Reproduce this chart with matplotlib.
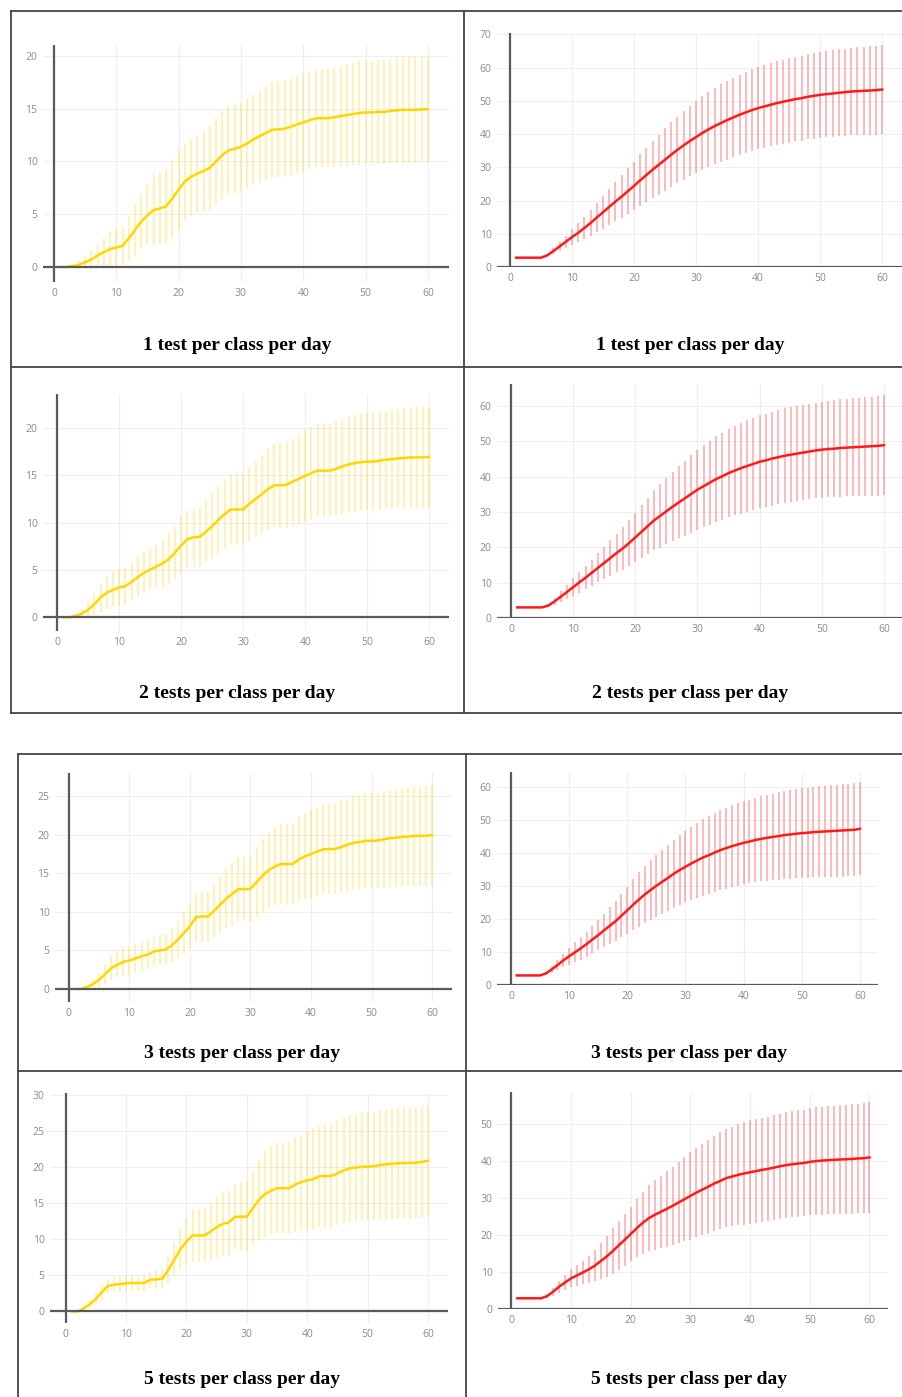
"""
Cumulative cases over 60 days for different testing frequencies
(yellow = one group, red = other group), mean line with error bars.
"""

import matplotlib.pyplot as plt
from matplotlib.lines import Line2D
import numpy as np

W, H = 902, 1397

days = list(range(1, 61))

titles = ['1 test per class per day', '2 tests per class per day',
          '3 tests per class per day', '5 tests per class per day']

# ---- yellow panels (left column) ----
y1_mean = [0, 0, 0.1, 0.2, 0.45, 0.7, 1.1, 1.4, 1.7, 1.85,
           2.0, 2.7, 3.5, 4.3, 4.9, 5.4, 5.55, 5.75, 6.5, 7.35,
           8.1, 8.55, 8.85, 9.1, 9.4, 10.0, 10.6, 11.05, 11.2, 11.4,
           11.7, 12.1, 12.4, 12.7, 13.0, 13.05, 13.1, 13.3, 13.5, 13.7,
           13.9, 14.1, 14.1, 14.1, 14.2, 14.3, 14.4, 14.5, 14.6, 14.65,
           14.65, 14.7, 14.7, 14.8, 14.85, 14.9, 14.9, 14.9, 14.95, 14.95]
y1_err = [0, 0, 0.1, 0.35, 0.6, 0.85, 1.1, 1.35, 1.6, 1.75,
          1.9, 2.1, 2.35, 2.6, 2.85, 3.3, 3.45, 3.55, 3.75, 3.8,
          3.6, 3.6, 3.7, 3.85, 4.0, 4.1, 4.2, 4.2, 4.2, 4.15,
          4.2, 4.3, 4.4, 4.5, 4.55, 4.55, 4.6, 4.6, 4.6, 4.65,
          4.65, 4.65, 4.65, 4.65, 4.7, 4.75, 4.8, 4.85, 4.9, 4.9,
          4.9, 4.9, 4.95, 4.95, 5.0, 5.0, 5.0, 5.0, 5.0, 5.0]

y2_mean = [0, 0, 0.15, 0.4, 0.8, 1.4, 2.1, 2.6, 2.9, 3.15,
           3.3, 3.75, 4.25, 4.7, 5.05, 5.35, 5.7, 6.15, 6.85, 7.6,
           8.25, 8.45, 8.5, 9.05, 9.65, 10.3, 10.9, 11.4, 11.4, 11.4,
           12.0, 12.5, 13.0, 13.55, 13.95, 13.95, 14.0, 14.35, 14.65, 14.95,
           15.25, 15.5, 15.5, 15.5, 15.7, 15.95, 16.15, 16.3, 16.4, 16.45,
           16.45, 16.55, 16.65, 16.7, 16.8, 16.85, 16.9, 16.9, 16.9, 16.95]
y2_err = [0, 0, 0.2, 0.5, 0.8, 1.2, 1.5, 1.7, 1.85, 1.95,
          2.0, 2.05, 2.1, 2.15, 2.2, 2.3, 2.45, 2.6, 2.8, 2.95,
          3.05, 3.1, 3.2, 3.35, 3.5, 3.6, 3.65, 3.7, 3.7, 3.75,
          3.9, 4.05, 4.2, 4.35, 4.45, 4.5, 4.55, 4.65, 4.75, 4.85,
          4.9, 4.95, 4.95, 4.95, 5.0, 5.05, 5.1, 5.1, 5.15, 5.15,
          5.15, 5.2, 5.2, 5.25, 5.25, 5.3, 5.3, 5.3, 5.3, 5.3]

y3_mean = [0, 0, 0.25, 0.65, 1.2, 1.95, 2.7, 3.15, 3.5, 3.7,
           3.95, 4.25, 4.45, 4.85, 5.0, 5.1, 5.65, 6.4, 7.25, 8.15,
           9.3, 9.4, 9.4, 10.15, 10.95, 11.7, 12.35, 12.95, 12.95, 12.95,
           13.85, 14.7, 15.4, 15.85, 16.2, 16.2, 16.2, 16.8, 17.2, 17.5,
           17.8, 18.1, 18.15, 18.15, 18.4, 18.7, 18.95, 19.05, 19.2, 19.2,
           19.25, 19.4, 19.55, 19.6, 19.7, 19.75, 19.85, 19.85, 19.85, 19.95]
y3_err = [0, 0, 0.3, 0.6, 0.9, 1.25, 1.55, 1.75, 1.85, 1.9,
          1.9, 1.9, 1.9, 1.9, 1.95, 2.0, 2.2, 2.45, 2.75, 3.0,
          3.2, 3.25, 3.3, 3.45, 3.65, 3.85, 4.0, 4.15, 4.2, 4.3,
          4.55, 4.75, 4.95, 5.1, 5.2, 5.25, 5.3, 5.45, 5.55, 5.65,
          5.75, 5.85, 5.85, 5.9, 5.95, 6.0, 6.05, 6.1, 6.15, 6.15,
          6.2, 6.25, 6.3, 6.35, 6.4, 6.45, 6.5, 6.5, 6.5, 6.55]

y5_mean = [0, 0, 0.45, 1.0, 1.75, 2.7, 3.55, 3.7, 3.8, 3.9,
           3.95, 3.95, 3.95, 4.4, 4.45, 4.55, 5.8, 7.2, 8.65, 9.7,
           10.55, 10.55, 10.55, 11.1, 11.7, 12.15, 12.35, 13.1, 13.15, 13.15,
           14.35, 15.5, 16.3, 16.75, 17.1, 17.1, 17.1, 17.6, 17.95, 18.2,
           18.35, 18.75, 18.8, 18.8, 19.15, 19.55, 19.85, 19.95, 20.05, 20.1,
           20.15, 20.3, 20.4, 20.5, 20.55, 20.6, 20.6, 20.65, 20.75, 20.9]
y5_err = [0, 0, 0.3, 0.55, 0.8, 0.95, 1.0, 1.05, 1.05, 1.05,
          1.05, 1.05, 1.1, 1.2, 1.3, 1.4, 1.8, 2.3, 2.8, 3.3,
          3.65, 3.7, 3.75, 3.95, 4.2, 4.35, 4.45, 4.6, 4.65, 4.75,
          5.2, 5.6, 5.95, 6.15, 6.3, 6.35, 6.4, 6.55, 6.7, 6.85,
          6.9, 7.0, 7.05, 7.1, 7.2, 7.3, 7.4, 7.45, 7.5, 7.55,
          7.55, 7.6, 7.65, 7.65, 7.7, 7.7, 7.75, 7.75, 7.8, 7.8]

# ---- red panels (right column) ----
r1_mean = [2.8, 2.8, 2.8, 2.8, 2.8, 3.5, 4.8, 6.2, 7.6, 9.0,
           10.3, 11.75, 13.25, 14.9, 16.5, 18.1, 19.7, 21.2, 22.8, 24.4,
           26.1, 27.7, 29.3, 30.8, 32.3, 33.8, 35.25, 36.6, 37.9, 39.1,
           40.3, 41.4, 42.4, 43.3, 44.2, 45.0, 45.8, 46.5, 47.2, 47.8,
           48.3, 48.8, 49.3, 49.7, 50.1, 50.5, 50.8, 51.2, 51.5, 51.8,
           52.0, 52.2, 52.4, 52.6, 52.8, 52.9, 53.0, 53.1, 53.2, 53.4]
r1_err = [0, 0, 0, 0, 0, 0.3, 0.8, 1.3, 1.8, 2.3,
          2.9, 3.4, 3.9, 4.5, 5.0, 5.5, 6.0, 6.5, 6.9, 7.3,
          7.8, 8.2, 8.6, 9.0, 9.4, 9.7, 10.0, 10.3, 10.6, 10.9,
          11.1, 11.3, 11.5, 11.7, 11.9, 12.0, 12.1, 12.2, 12.3, 12.4,
          12.45, 12.5, 12.55, 12.6, 12.65, 12.7, 12.75, 12.8, 12.85, 12.9,
          12.95, 13.0, 13.05, 13.1, 13.15, 13.2, 13.25, 13.3, 13.35, 13.4]

r2_mean = [3.0, 3.0, 3.0, 3.0, 3.0, 3.5, 4.7, 6.0, 7.35, 8.7,
           10.1, 11.4, 12.8, 14.2, 15.6, 17.0, 18.4, 19.7, 21.2, 22.8,
           24.4, 26.0, 27.6, 28.9, 30.2, 31.5, 32.7, 33.9, 35.1, 36.3,
           37.3, 38.3, 39.3, 40.1, 41.0, 41.7, 42.4, 43.0, 43.6, 44.2,
           44.6, 45.1, 45.5, 45.9, 46.2, 46.5, 46.8, 47.1, 47.4, 47.6,
           47.8, 47.9, 48.1, 48.2, 48.3, 48.4, 48.5, 48.6, 48.7, 48.9]
r2_err = [0, 0, 0, 0, 0, 0.4, 1.0, 1.5, 2.0, 2.5,
          2.9, 3.3, 3.7, 4.1, 4.5, 5.0, 5.5, 6.0, 6.5, 7.0,
          7.5, 8.0, 8.5, 9.0, 9.4, 9.8, 10.2, 10.6, 11.0, 11.3,
          11.6, 11.9, 12.1, 12.3, 12.5, 12.7, 12.9, 13.0, 13.1, 13.2,
          13.25, 13.3, 13.35, 13.4, 13.45, 13.5, 13.5, 13.55, 13.55, 13.6,
          13.65, 13.7, 13.75, 13.8, 13.85, 13.9, 13.95, 14.0, 14.05, 14.1]

r3_mean = [2.9, 2.9, 2.9, 2.9, 2.9, 3.5, 4.7, 6.05, 7.45, 8.7,
           9.9, 11.1, 12.4, 13.8, 15.1, 16.55, 17.95, 19.35, 21.0, 22.6,
           24.3, 25.9, 27.4, 28.75, 30.05, 31.25, 32.45, 33.7, 34.8, 35.8,
           36.8, 37.7, 38.6, 39.3, 40.1, 40.85, 41.45, 42.05, 42.55, 43.05,
           43.45, 43.9, 44.25, 44.55, 44.85, 45.1, 45.4, 45.6, 45.8, 46.0,
           46.1, 46.3, 46.4, 46.5, 46.6, 46.7, 46.8, 46.9, 47.0, 47.3]
r3_err = [0, 0, 0, 0, 0, 0.4, 1.0, 1.5, 2.0, 2.6,
          3.0, 3.4, 3.8, 4.2, 4.6, 5.1, 5.6, 6.1, 6.6, 7.2,
          7.7, 8.2, 8.6, 9.0, 9.4, 9.7, 10.0, 10.3, 10.6, 10.8,
          11.1, 11.4, 11.6, 11.8, 12.0, 12.2, 12.3, 12.4, 12.5, 12.6,
          12.7, 12.8, 12.9, 13.0, 13.1, 13.2, 13.3, 13.4, 13.5, 13.6,
          13.65, 13.7, 13.75, 13.8, 13.85, 13.9, 13.95, 14.0, 14.05, 14.1]

r5_mean = [2.9, 2.9, 2.9, 2.9, 2.9, 3.5, 4.7, 6.05, 7.2, 8.3,
           9.1, 9.9, 10.75, 11.75, 13.0, 14.25, 15.7, 17.25, 18.75, 20.3,
           21.85, 23.3, 24.55, 25.45, 26.25, 27.05, 27.9, 28.8, 29.7, 30.6,
           31.5, 32.3, 33.1, 33.95, 34.65, 35.4, 35.85, 36.3, 36.65, 37.0,
           37.3, 37.65, 37.9, 38.25, 38.6, 38.9, 39.15, 39.35, 39.5, 39.8,
           40.0, 40.15, 40.25, 40.35, 40.45, 40.5, 40.6, 40.7, 40.8, 41.0]
r5_err = [0, 0, 0, 0, 0, 0.5, 1.1, 1.6, 2.0, 2.4,
          2.8, 3.2, 3.7, 4.3, 4.9, 5.5, 6.1, 6.6, 7.0, 7.4,
          7.9, 8.4, 8.9, 9.4, 9.8, 10.2, 10.6, 11.0, 11.4, 11.8,
          12.1, 12.4, 12.7, 12.9, 13.1, 13.3, 13.5, 13.7, 13.85, 14.0,
          14.05, 14.1, 14.15, 14.2, 14.25, 14.3, 14.35, 14.4, 14.45, 14.5,
          14.55, 14.6, 14.6, 14.65, 14.7, 14.75, 14.8, 14.85, 14.9, 14.9]

yellow = '#FFD600'
red = '#FF1A1A'

# panel layout in pixels: (left, top, right, bottom), xlim, ylim, ytick step
panels = [
    (y1_mean, y1_err, yellow, (43, 45, 449, 282), (-1.76, 63.4), (-1.42, 21.04), 5, (237, 346), titles[0]),
    (r1_mean, r1_err, red, (497, 33, 902, 267), (-2.1, 63.2), (0, 70.4), 10, (690, 346), titles[0]),
    (y2_mean, y2_err, yellow, (43, 394, 449, 631), (-2.3, 63.2), (-1.45, 23.6), 5, (237, 693), titles[1]),
    (r2_mean, r2_err, red, (497, 384, 902, 618), (-2.25, 62.9), (0, 66.2), 10, (690, 693), titles[1]),
    (y3_mean, y3_err, yellow, (55, 773, 452, 1002), (-2.3, 63.3), (-1.69, 28.0), 5, (242, 1053), titles[2]),
    (r3_mean, r3_err, red, (497, 772, 878, 985), (-2.4, 63.1), (0, 64.5), 10, (689, 1053), titles[2]),
    (y5_mean, y5_err, yellow, (50, 1093, 448, 1323), (-2.6, 63.3), (-1.6, 30.3), 5, (242, 1379), titles[3]),
    (r5_mean, r5_err, red, (498, 1092, 888, 1309), (-2.25, 63.1), (0, 58.7), 10, (689, 1379), titles[3]),
]

fig = plt.figure(figsize=(W / 100, H / 100), dpi=100)
fig.patch.set_facecolor('white')

for mean, err, col, box, xl, yl, ystep, tpos, title in panels:
    l, t, r, b = box
    ax = fig.add_axes([l / W, 1 - b / H, (r - l) / W, (b - t) / H])
    ax.set_facecolor('none')
    ax.errorbar(days, mean, yerr=err, fmt='none', ecolor=col, alpha=0.38,
                elinewidth=1.1, capsize=0, zorder=2)
    ax.plot(days, mean, color=col, linewidth=1.8, zorder=3)
    ax.axhline(0, color='#5a5a5a', linewidth=1.6, zorder=4)
    ax.axvline(0, color='#5a5a5a', linewidth=1.6, zorder=4)
    ax.set_xlim(*xl)
    ax.set_ylim(*yl)
    ax.set_xticks(np.arange(0, 61, 10))
    ax.set_yticks(np.arange(0, yl[1] + 0.01, ystep))
    ax.grid(True, color='#eeeeee', linewidth=0.8, zorder=0)
    ax.set_axisbelow(True)
    for s in ax.spines.values():
        s.set_visible(False)
    ax.tick_params(length=0, labelsize=7.5, labelcolor='#8a8a8a', pad=4)
    for lab in ax.get_xticklabels() + ax.get_yticklabels():
        lab.set_family('Open Sans')
    fig.text(tpos[0] / W, 1 - tpos[1] / H, title, ha='center', va='center',
             family='Liberation Serif', fontweight='bold', fontsize=14)

# panel borders
def hline(y, x0, x1):
    fig.add_artist(Line2D([x0 / W, x1 / W], [1 - y / H, 1 - y / H],
                          transform=fig.transFigure, color='#444444', linewidth=1.3))

def vline(x, y0, y1):
    fig.add_artist(Line2D([x / W, x / W], [1 - y0 / H, 1 - y1 / H],
                          transform=fig.transFigure, color='#444444', linewidth=1.3))

# top block
hline(11, 11, 902)
hline(367, 11, 902)
hline(713, 11, 902)
vline(11, 11, 713)
vline(464, 11, 713)
# bottom block
hline(754, 18, 902)
hline(1071, 18, 902)
vline(18, 754, 1397)
vline(466, 754, 1397)

fig.savefig('out.png', dpi=100)
